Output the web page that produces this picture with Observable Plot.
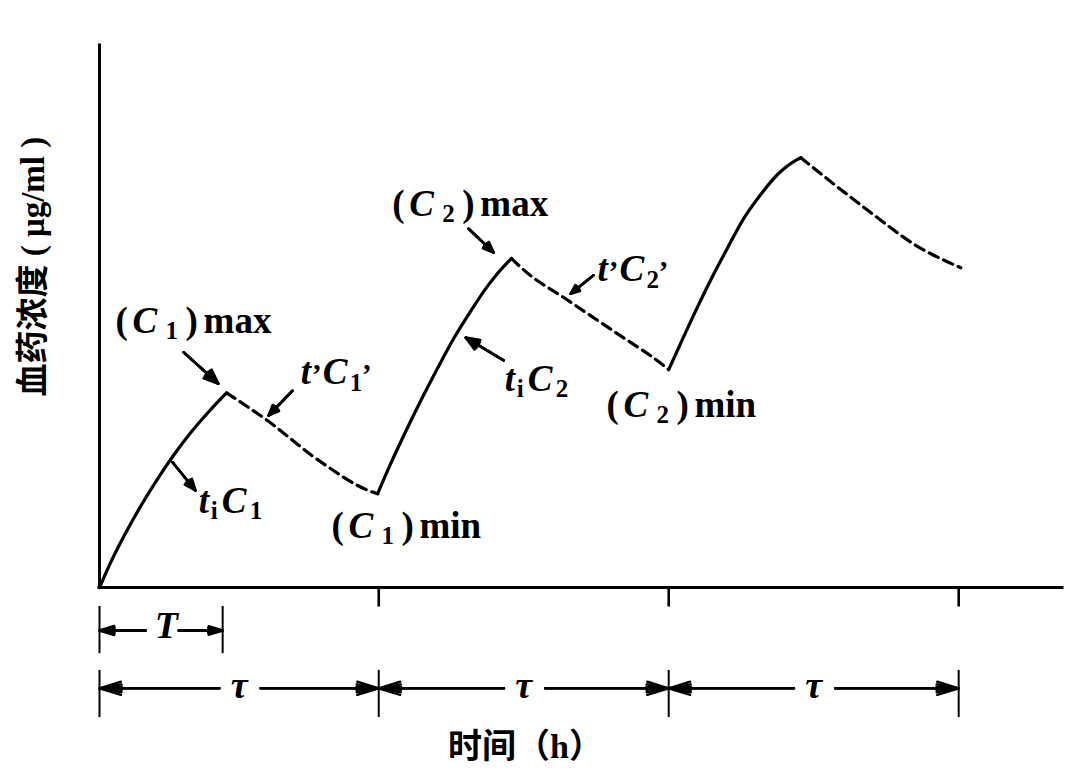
<!DOCTYPE html>
<html><head><meta charset="utf-8">
<script src="https://cdn.jsdelivr.net/npm/d3@7"></script>
<script src="https://cdn.jsdelivr.net/npm/@observablehq/plot@0.6"></script>
<style>body{margin:0;background:#fff;} #chart svg{display:block;}</style>
</head><body><div id="chart"></div>
<script>
// ---------- data (time in h, concentration in arbitrary µg/ml units) ----------
const doseStarts = [0, 7.80, 15.90, 24.00];      // τ boundaries
const infusionEnd = 3.44;                         // T
const rise1Time = [0, 0.31, 0.67, 1.15, 1.62, 2.07, 2.54, 3.02, 3.46, 3.55];
const rise1Conc = [0, 4.6, 9.3, 15.0, 20.0, 24.4, 28.5, 32.2, 35.3, 35.9];
const decay1Time = [3.55, 4.69, 6.09, 7.63, 7.77];
const decay1Conc = [35.9, 30.8, 23.6, 17.6, 17.3];
const rise2Time = [7.77, 8.05, 8.49, 8.97, 9.44, 9.89, 10.37, 10.84, 11.40, 11.51];
const rise2Conc = [17.3, 21.6, 27.9, 34.4, 40.4, 45.9, 51.0, 55.6, 60.0, 60.7];
const decay2Time = [11.51, 11.85, 13.08, 14.36, 15.73, 15.90];
const decay2Conc = [60.7, 58.6, 53.0, 47.3, 41.1, 40.2];
const rise3Time = [15.90, 16.23, 16.60, 17.07, 17.54, 17.99, 18.47, 18.94, 19.50, 19.59];
const rise3Conc = [40.2, 45.0, 50.3, 56.7, 62.6, 68.0, 72.5, 76.2, 79.0, 79.3];
const decay3Time = [19.59, 21.46, 22.86, 24.06];
const decay3Conc = [79.3, 69.6, 62.9, 59.0];

// annotation labels
const labelKind = ["paren", "paren", "paren", "paren", "prime", "prime", "ti", "ti"];
const labelIdx  = ["1", "1", "2", "2", "1", "2", "1", "2"];
const labelWord = ["max", "min", "max", "min", "", "", "", ""];
const labelTime = [0.45, 6.48, 8.18, 14.16, 5.62, 13.91, 2.77, 11.32];
const labelConc = [46.9, 9.2, 68.6, 31.5, 37.6, 56.5, 13.8, 36.2];
// annotation arrows (tail -> head)
const arrowT1 = [2.35, 5.39, 2.04, 10.31, 13.80, 11.29];
const arrowC1 = [43.4, 36.3, 23.1, 66.2, 57.6, 41.9];
const arrowT2 = [3.32, 4.72, 2.68, 11.01, 13.16, 10.23];
const arrowC2 = [37.6, 31.7, 17.9, 61.8, 54.2, 46.1];

const yTitle = "血药浓度 ( μg/ml )";
const xTitle = "时间（h）";

// ---------- layout ----------
const W = 1074, H = 771, mL = 99, mR = 12, mT = 45, mB = 184;
const xMax = 26.9, yMax = 100;
const kx = (W - mL - mR) / xMax, ky = (H - mT - mB) / yMax;

const mk = (ts, cs, dose) => ts.map((t, i) => ({t, c: cs[i], dose}));
const rises = [...mk(rise1Time, rise1Conc, 1), ...mk(rise2Time, rise2Conc, 2), ...mk(rise3Time, rise3Conc, 3)];
const decays = [...mk(decay1Time, decay1Conc, 1), ...mk(decay2Time, decay2Conc, 2), ...mk(decay3Time, decay3Conc, 3)];

const patterns = {
  paren: (n, w) => [["(",0,0,"main"],["C",17,0,"ital"],[n,50,6,"sub"],[")",70,0,"main"],[w,88,0,"main"]],
  prime: (n) => [["t",0,0,"ital"],["\u2019",11,0,"prime"],["C",22,0,"ital"],[n,49,7,"sub"],["\u2019",61,0,"prime"]],
  ti: (n) => [["t",0,0,"ital"],["i",12,6,"sub"],["C",23,0,"ital"],[n,51,6,"sub"]]
};
const pieces = [];
labelKind.forEach((k, i) => {
  patterns[k](labelIdx[i], labelWord[i]).forEach(([s, dx, dy, kind]) => {
    pieces.push({s, kind, x: labelTime[i] + dx / kx, y: labelConc[i] - dy / ky});
  });
});
const arrows = arrowT1.map((t, i) => ({x1: t, y1: arrowC1[i], x2: arrowT2[i], y2: arrowC2[i]}));

// dimension lines
const yT = -7.93, yTau = -18.6;
const tText = [{x: infusionEnd / 2 + 0.15, y: -9.4, s: "T"}];
const tArrows = [{x1: 1.29, x2: 0, y: yT}, {x1: 2.21, x2: infusionEnd, y: yT}];
const tauArrows = [], tauText = [];
for (let i = 0; i < 3; i++) {
  const a = doseStarts[i], b = doseStarts[i + 1], m = (a + b) / 2;
  tauArrows.push({x1: m - 0.55, x2: a, y: yTau}, {x1: m + 0.6, x2: b, y: yTau});
  tauText.push({x: m, y: -20.4, s: "τ"});
}

const serif = "'Liberation Serif', 'Times New Roman', serif";
const headSet = (data, opts, angles, len) => angles.map(a => Plot.arrow(data, {...opts, headAngle: a, headLength: len, stroke: "black"}));
const txt = (kind, extra) => Plot.text(pieces.filter(d => d.kind === kind), {x: "x", y: "y", text: "s", textAnchor: "start", lineAnchor: "bottom", fontFamily: serif, fontWeight: "bold", ...extra});

const chart = Plot.plot({
  width: W, height: H, marginLeft: mL, marginRight: mR, marginTop: mT, marginBottom: mB,
  x: {domain: [0, xMax], axis: null},
  y: {domain: [0, yMax], axis: null},
  style: {background: "white", overflow: "visible"},
  marks: [
    Plot.ruleX([0], {y1: 0, y2: yMax, strokeWidth: 3, strokeLinecap: "square"}),
    Plot.ruleY([0], {x1: 0, x2: xMax, strokeWidth: 3, strokeLinecap: "square"}),
    Plot.ruleX(doseStarts.slice(1), {y1: 0, y2: -3.6, strokeWidth: 2.6}),
    Plot.line(rises, {x: "t", y: "c", z: "dose", curve: "monotone-x", stroke: "black", strokeWidth: 3.2, strokeLinejoin: "round"}),
    Plot.line(decays, {x: "t", y: "c", z: "dose", curve: "monotone-x", stroke: "black", strokeWidth: 3.2, strokeDasharray: "10,6"}),
    ...headSet(arrows, {x1: "x1", y1: "y1", x2: "x2", y2: "y2", strokeWidth: 2.6}, [44, 28, 12], 13),
    // dimension lines
    Plot.ruleX([0, infusionEnd], {y1: -3.5, y2: -12.2, strokeWidth: 2}),
    Plot.ruleX(doseStarts, {y1: -15.3, y2: -24.0, strokeWidth: 2}),
    ...headSet(tArrows, {x1: "x1", y1: "y", x2: "x2", y2: "y", strokeWidth: 2.4}, [34, 20, 8], 14),
    ...headSet(tauArrows, {x1: "x1", y1: "y", x2: "x2", y2: "y", strokeWidth: 2.4}, [34, 20, 8], 14),
    Plot.text(tText, {x: "x", y: "y", text: "s", lineAnchor: "bottom", fontSize: 38, fontFamily: serif, fontWeight: "bold", fontStyle: "italic"}),
    Plot.text(tauText, {x: "x", y: "y", text: "s", lineAnchor: "bottom", fontSize: 38, fontFamily: serif, fontWeight: "bold", fontStyle: "italic"}),
    // annotation labels
    txt("main", {fontSize: 37}),
    txt("ital", {fontSize: 37, fontStyle: "italic"}),
    txt("prime", {fontSize: 30}),
    txt("sub", {fontSize: 25}),
    // axis titles
    Plot.text([{x: -1.84, y: 59.2, s: yTitle}], {x: "x", y: "y", text: "s", rotate: -90, fontSize: 33, fontWeight: "bold", fontFamily: "'Liberation Serif', 'Noto Sans CJK SC'"}),
    Plot.text([{x: 11.90, y: -31.4, s: xTitle}], {x: "x", y: "y", text: "s", lineAnchor: "bottom", fontSize: 34, fontWeight: "bold", fontFamily: "'Liberation Serif', 'Noto Sans CJK SC'"})
  ]
});
document.getElementById("chart").appendChild(chart);
</script>
</body></html>
